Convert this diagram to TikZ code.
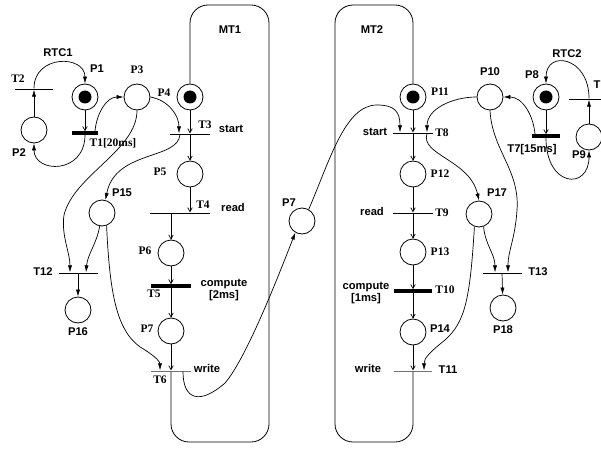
\documentclass[tikz,border=0pt]{standalone}
\usepackage{fontspec}
\setmainfont{Liberation Serif}
\setsansfont{Liberation Sans}
\usetikzlibrary{arrows.meta,calc,positioning}
\tikzset{
    place/.style={circle,draw=black,line width=0.8pt,minimum size=26pt,inner sep=0pt},
    marked/.style={place,path picture={\fill[black] (path picture bounding box.center) circle (6.5pt);}},
    trans/.style={rectangle,fill=black,inner sep=0pt,minimum height=0.9pt,minimum width=#1},
    ttrans/.style={trans=#1,minimum height=3.2pt},
    gtrans/.style={trans=#1,fill=black!55},
    pnarc/.style={line width=0.7pt},
    barb/.style={pnarc,-{Straight Barb[length=4pt,width=4.5pt]}},
    arr/.style={pnarc,-{Latex[length=7pt,width=4.2pt]}},
    tasknet/.style={line width=0.8pt,rounded corners=18pt},
    rlab/.style={font=\rmfamily\bfseries\fontsize{11.5}{12.5}\selectfont,inner sep=1pt},
    slab/.style={font=\sffamily\bfseries\fontsize{11.2}{12.5}\selectfont,inner sep=1pt}
}
\begin{document}
\begin{tikzpicture}[x=1pt,y=1pt]
  \useasboundingbox (0,0) rectangle (601,-449);

  % places
  \node[marked] (P1)  at (85,-97)   {};
  \node[place]  (P2)  at (34,-130)  {};
  \node[place]  (P3)  at (137,-97)  {};
  \node[marked] (P4)  at (190,-97)  {};
  \node[place]  (P5)  at (190,-174) {};
  \node[place]  (P6)  at (171,-253) {};
  \node[place]  (P7)  at (171,-331) {};
  \node[place]  (P7m) at (302,-221) {};
  \node[marked] (P8)  at (546,-97)  {};
  \node[place]  (P9)  at (589,-137) {};
  \node[place]  (P10) at (490,-97)  {};
  \node[marked] (P11) at (413,-97)  {};
  \node[place]  (P12) at (413,-174) {};
  \node[place]  (P13) at (413,-252) {};
  \node[place]  (P14) at (413,-332) {};
  \node[place]  (P15) at (102,-213) {};
  \node[place]  (P16) at (78,-310)  {};
  \node[place]  (P17) at (479,-214) {};
  \node[place]  (P18) at (503,-308) {};

  % transitions
  \node[ttrans=26pt] (T1)  at (85,-133)  {};
  \node[trans=38pt]  (T2)  at (34,-89)   {};
  \node[trans=40pt]  (T3)  at (190,-134) {};
  \node[trans=60pt]  (T4)  at (180,-213) {};
  \node[ttrans=40pt] (T5)  at (171,-286) {};
  \node[gtrans=40pt] (T6)  at (171,-371) {};
  \node[ttrans=28pt] (T7)  at (546,-136) {};
  \node[trans=40pt]  (T8)  at (413,-133) {};
  \node[trans=40pt]  (T9)  at (413,-213) {};
  \node[ttrans=38pt] (T10) at (413,-291) {};
  \node[gtrans=38pt] (T11) at (413,-371) {};
  \node[trans=39pt]  (T12) at (78,-273)  {};
  \node[trans=39pt]  (T13) at (502,-273) {};
  \node[trans=32pt]  (T14) at (585,-99)  {};

  % RTC1
  \draw[barb] (P1) -- (T1);
  \draw[arr] (T1.south) .. controls +(0,-40) and +(0,-30) .. (P2.south);
  \draw[arr] ([xshift=10pt]T1.north) to[out=85,in=180] (P3.west);
  \draw[arr] (P2) -- (T2);
  \draw[arr] (T2.north) .. controls +(0,34) and +(0,29) .. (P1.north);
  \draw[arr] (P3.east) to[out=-10,in=90] ([xshift=-11pt]T3.north);
  \draw[arr] ([xshift=-10pt]T3.south) .. controls (178,-160) and (115,-150) .. (P15.75);
  \draw[arr] (P3.south) .. controls +(0,-40) and +(10,40) .. (64,-215)
             .. controls +(-3,-20) and +(0,20) .. ([xshift=-8pt]T12.north);
  \draw[arr] (P15.260) to[out=-100,in=85] ([xshift=8pt]T12.north);
  \draw[arr] (T12) -- (P16);
  \draw[arr] (P15.290) .. controls (110,-300) and (118,-335) .. (145,-350)
             .. controls (156,-357) and (160,-362) .. ([xshift=-11pt]T6.north);

  % MT1
  \draw[barb] (P4) -- (T3);
  \draw[barb] (T3) -- (P5);
  \draw[barb] (P5) -- ([xshift=10pt]T4.north);
  \draw[barb] ([xshift=-9pt]T4.south) -- (P6);
  \draw[barb] (P6) -- (T5);
  \draw[barb] (T5) -- (P7);
  \draw[barb] (P7) -- (T6);
  \draw[tasknet] (T6.south) -- (171,-442) -- (269,-442) -- (269,-5) -- (190,-5) -- (P4.north);
  \draw[arr] ([xshift=12pt]T6.south) .. controls (183,-400) and (200,-405) .. (225,-383)
             .. controls (245,-360) and (275,-285) .. (P7m.240);
  \draw[arr] (P7m.60) .. controls (330,-160) and (345,-105) .. (377,-105)
             .. controls (395,-105) and (400,-112) .. ([xshift=-13pt]T8.north);

  % MT2
  \draw[barb] (P11) -- (T8);
  \draw[barb] (T8) -- (P12);
  \draw[barb] (P12) -- (T9);
  \draw[barb] (T9) -- (P13);
  \draw[barb] (P13) -- (T10);
  \draw[barb] (T10) -- (P14);
  \draw[barb] (P14) -- (T11);
  \draw[tasknet] (T11.south) -- (413,-442) -- (335,-442) -- (335,-5) -- (413,-5) -- (P11.north);
  \draw[arr] (P10.west) to[out=180,in=90] ([xshift=14pt]T8.north);
  \draw[arr] ([xshift=14pt]T8.south) .. controls (420,-155) and (470,-160) .. (P17.north);
  \draw[arr] (P10.south) .. controls (492,-150) and (520,-170) .. (517,-210)
             .. controls (515,-240) and (508,-250) .. ([xshift=6pt]T13.north);
  \draw[arr] (P17.290) to[out=-85,in=90] ([xshift=-7pt]T13.north);
  \draw[arr] (T13) -- (P18);
  \draw[arr] (P17.250) .. controls (470,-300) and (465,-322) .. (445,-340)
             .. controls (430,-352) and (424,-358) .. ([xshift=11pt]T11.north);

  % RTC2
  \draw[barb] (P8) -- (T7);
  \draw[arr] ([xshift=-11pt]T7.north) to[out=95,in=0] (P10.east);
  \draw[arr] (T7.south) .. controls +(0,-50) and +(0,-40) .. (P9.south);
  \draw[arr] (P9) -- ([xshift=4pt]T14.south);
  \draw[arr] ([xshift=4pt]T14.north) .. controls +(0,42) and +(0,34) .. (P8.north);

  % labels
  \node[slab] (lRTC1)   at (58,-53)   {RTC1};
  \node[slab] (lP1)     at (97,-69)   {P1};
  \node[rlab] (lT2)     at (18,-79)   {T2};
  \node[slab] (lP2)     at (19,-153)  {P2};
  \node[rlab] (lP3)     at (137,-70)  {P3};
  \node[rlab] (lT1)     at (113,-143) {T1[20ms]};
  \node[rlab] (lP4)     at (164,-93)  {P4};
  \node[slab] (lMT1)    at (230,-30)  {MT1};
  \node[rlab] (lT3)     at (205,-125) {T3};
  \node[slab] (lstart1) at (231,-129) {start};
  \node[rlab] (lP5)     at (160,-172) {P5};
  \node[rlab] (lT4)     at (203,-205) {T4};
  \node[slab] (lread1)  at (233,-207) {read};
  \node[slab] (lP15)    at (122,-193) {P15};
  \node[rlab] (lP6)     at (145,-251) {P6};
  \node[slab] (lT12)    at (43,-272)  {T12};
  \node[slab] (lP16)    at (78,-332)  {P16};
  \node[rlab] (lT5)     at (154,-294) {T5};
  \node[slab,align=center] (lcomp1) at (224,-290) {compute\\{}[2ms]};
  \node[rlab] (lP7)     at (147,-329) {P7};
  \node[rlab] (lT6)     at (160,-380) {T6};
  \node[slab] (lwrite1) at (207,-368) {write};
  \node[slab] (lP7m)    at (289,-203) {P7};
  \node[slab] (lMT2)    at (372,-30)  {MT2};
  \node[slab] (lstart2) at (375,-132) {start};
  \node[slab] (lread2)  at (372,-211) {read};
  \node[slab,align=center] (lcomp2) at (366,-293) {compute\\{}[1ms]};
  \node[slab] (lwrite2) at (368,-368) {write};
  \node[rlab] (lP11)    at (440,-92)  {P11};
  \node[rlab] (lT8)     at (442,-133) {T8};
  \node[rlab] (lP12)    at (440,-174) {P12};
  \node[rlab] (lT9)     at (442,-213) {T9};
  \node[rlab] (lP13)    at (440,-252) {P13};
  \node[rlab] (lT10)    at (445,-290) {T10};
  \node[slab] (lP14)    at (440,-329) {P14};
  \node[slab] (lT11)    at (448,-370) {T11};
  \node[slab] (lP10)    at (490,-72)  {P10};
  \node[slab] (lP17)    at (497,-193) {P17};
  \node[slab] (lT13)    at (538,-272) {T13};
  \node[slab] (lP18)    at (503,-330) {P18};
  \node[slab] (lP8)     at (532,-75)  {P8};
  \node[slab] (lRTC2)   at (567,-54)  {RTC2};
  \node[slab] (lT7)     at (532,-150) {T7[15ms]};
  \node[slab] (lP9)     at (579,-155) {P9};
  \node[slab] (lT14)    at (597,-85)  {T};
\end{tikzpicture}
\end{document}
